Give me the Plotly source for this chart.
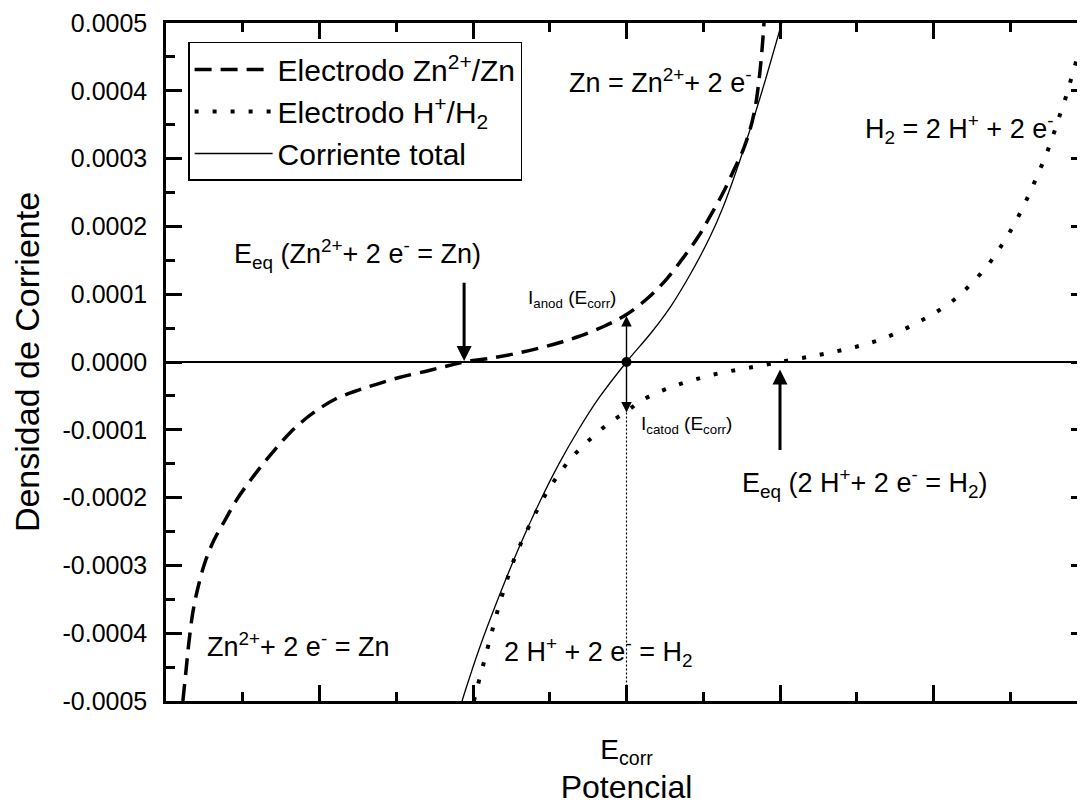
import plotly.graph_objects as go

# ---- data (x in units of major tick spacing, 0 = E_corr) ----
zn_x = [-2.890, -2.870, -2.851, -2.825, -2.792, -2.747, -2.688, -2.617, -2.539, -2.455, -2.370,
        -2.286, -2.195, -2.097, -2.000, -1.890, -1.773, -1.675, -1.481, -1.286, -1.156, -1.058,
        -0.896, -0.721, -0.526, -0.331, -0.149, 0.0, 0.143, 0.260, 0.370, 0.468, 0.545, 0.630,
        0.701, 0.760, 0.805, 0.838, 0.864, 0.883, 0.896]
zn_y = [-0.000500, -0.000456, -0.000414, -0.000369, -0.000333, -0.000296, -0.000263, -0.000234,
        -0.000203, -0.000176, -0.000151, -0.000128, -0.000105, -0.0000848, -0.0000686, -0.0000538,
        -0.0000435, -0.0000361, -0.0000229, -0.0000125, -0.0000052, 0.0, 0.0000052, 0.0000125,
        0.0000229, 0.0000361, 0.0000524, 0.0000701, 0.0000951, 0.000122, 0.000154, 0.000185,
        0.000215, 0.000250, 0.000284, 0.000313, 0.000343, 0.000375, 0.000417, 0.000461, 0.000501]

h_x = [-0.994, -0.987, -0.955, -0.922, -0.890, -0.857, -0.825, -0.786, -0.747, -0.701, -0.643,
       -0.584, -0.519, -0.442, -0.357, -0.247, -0.117, 0.0, 0.097, 0.227, 0.351, 0.481, 0.597,
       0.714, 0.825, 0.922, 1.0, 1.065, 1.182, 1.299, 1.422, 1.539, 1.656, 1.779, 1.896, 2.013,
       2.136, 2.240, 2.351, 2.435, 2.513, 2.578, 2.636, 2.688, 2.734, 2.779, 2.818, 2.857, 2.896,
       2.929, 2.961, 2.987]
h_y = [-0.000500, -0.000493, -0.000465, -0.000437, -0.000409, -0.000381, -0.000355, -0.000327,
       -0.000300, -0.000274, -0.000246, -0.000219, -0.000192, -0.000166, -0.000141, -0.000116,
       -0.0000907, -0.0000730, -0.0000568, -0.0000428, -0.0000324, -0.0000236, -0.0000170,
       -0.0000118, -0.0000074, -0.0000034, 0.0, 0.0000029, 0.0000074, 0.0000125, 0.0000184,
       0.0000251, 0.0000332, 0.0000450, 0.0000583, 0.0000730, 0.0000922, 0.000114, 0.000142,
       0.000169, 0.000198, 0.000226, 0.000254, 0.000281, 0.000306, 0.000334, 0.000361, 0.000387,
       0.000417, 0.000443, 0.000471, 0.000498]

tot_x = [-1.071, -1.052, -0.961, -0.831, -0.701, -0.571, -0.442, -0.312, -0.182, 0.0, 0.162,
         0.292, 0.422, 0.545, 0.630, 0.714, 0.805, 0.877, 0.942, 1.013]
tot_y = [-0.000500, -0.000486, -0.000424, -0.000346, -0.000274, -0.000209, -0.000151, -0.0000996,
         -0.0000538, 0.0, 0.0000435, 0.0000833, 0.000132, 0.000185, 0.000229, 0.000281, 0.000343,
         0.000395, 0.000445, 0.000501]

e_corr = 0.0
e_eq_zn = -1.058
e_eq_h = 1.0
i_anod = 0.000068
i_catod = -0.0000745

y_ticks = [0.0005, 0.0004, 0.0003, 0.0002, 0.0001, 0.0, -0.0001, -0.0002, -0.0003, -0.0004, -0.0005]
y_tick_text = ["0.0005", "0.0004", "0.0003", "0.0002", "0.0001", "0.0000",
               "-0.0001", "-0.0002", "-0.0003", "-0.0004", "-0.0005"]
x_ticks = [-3, -2, -1, 0, 1, 2, 3]
x_tick_text = ["", "", "", "E<sub>corr</sub>", "", "", ""]

FONT = "Liberation Sans, Arial, sans-serif"

fig = go.Figure()
fig.add_trace(go.Scatter(x=zn_x, y=zn_y, mode="lines", name="Electrodo Zn<sup>2+</sup>/Zn",
                         line=dict(color="black", width=3.5, dash="17px,9px", shape="spline")))
fig.add_trace(go.Scatter(x=h_x, y=h_y, mode="lines", name="Electrodo H<sup>+</sup>/H<sub>2</sub>",
                         line=dict(color="black", width=4, dash="4px,14px", shape="spline")))
fig.add_trace(go.Scatter(x=tot_x, y=tot_y, mode="lines", name="Corriente total",
                         line=dict(color="black", width=1.3, shape="spline")))
# vertical dotted line at E_corr
fig.add_trace(go.Scatter(x=[e_corr, e_corr], y=[i_catod, -0.0005], mode="lines", showlegend=False,
                         line=dict(color="black", width=1.2, dash="2px,2px")))
# corrosion point
fig.add_trace(go.Scatter(x=[e_corr], y=[0.0], mode="markers", showlegend=False,
                         marker=dict(color="black", size=10)))

annots = []
def arrow(x, y_tail, y_head, width, size):
    annots.append(dict(x=x, y=y_head, ax=x, ay=y_tail, xref="x", yref="y", axref="x", ayref="y",
                       showarrow=True, arrowhead=2, arrowsize=size, arrowwidth=width,
                       arrowcolor="black", text=""))

arrow(e_eq_zn, 0.000119, 0.0000015, 3, 1.0)
arrow(e_eq_h, -0.000132, -0.000011, 3, 1.0)
arrow(e_corr, 0.0, i_anod, 1.4, 1.5)
arrow(e_corr, 0.0, i_catod, 1.4, 1.5)

def label(x, y, text, size=27):
    annots.append(dict(x=x, y=y, xref="x", yref="y", text=text, showarrow=False,
                       xanchor="left", yanchor="middle", font=dict(family=FONT, size=size, color="black")))

label(-0.390, 0.000414, "Zn = Zn<sup>2+</sup>+ 2 e<sup>-</sup>")
label(1.539, 0.000343, "H<sub>2</sub> = 2 H<sup>+</sup> + 2 e<sup>-</sup>")
label(-2.571, 0.000159, "E<sub>eq</sub> (Zn<sup>2+</sup>+ 2 e<sup>-</sup> = Zn)")
label(-0.656, 0.0000922, "I<sub>anod</sub> (E<sub>corr</sub>)", 19)
label(0.084, -0.0000922, "I<sub>catod</sub> (E<sub>corr</sub>)", 19)
label(0.740, -0.000178, "E<sub>eq</sub> (2 H<sup>+</sup>+ 2 e<sup>-</sup> = H<sub>2</sub>)")
label(-2.747, -0.000417, "Zn<sup>2+</sup>+ 2 e<sup>-</sup> = Zn")
label(-0.812, -0.000427, "2 H<sup>+</sup> + 2 e<sup>-</sup> = H<sub>2</sub>")

axis_common = dict(showline=True, linecolor="black", linewidth=2.5, mirror="ticks",
                   ticks="inside", ticklen=16, tickwidth=2.5, tickcolor="black",
                   showgrid=False)

fig.update_layout(
    width=1082, height=797,
    margin=dict(l=158, r=0, t=15, b=104),
    paper_bgcolor="white", plot_bgcolor="white",
    font=dict(family=FONT, color="black"),
    xaxis=dict(range=[-3, 3], tickmode="array", tickvals=x_ticks, ticktext=x_tick_text,
               zeroline=False, tickfont=dict(size=28), ticklabelstandoff=22,
               minor=dict(tickmode="linear", tick0=0, dtick=0.5, ticks="inside", ticklen=9,
                          tickwidth=2.5, tickcolor="black"),
               title=dict(text="Potencial", font=dict(size=32), standoff=7),
               **axis_common),
    yaxis=dict(range=[-0.0005, 0.0005], tickmode="array", tickvals=y_ticks, ticktext=y_tick_text,
               zeroline=True, zerolinecolor="black", zerolinewidth=1.6,
               tickfont=dict(size=25), ticklabelstandoff=11,
               minor=dict(tickmode="linear", tick0=0, dtick=0.00005, ticks="inside", ticklen=9,
                          tickwidth=2.5, tickcolor="black"),
               title=dict(text="Densidad de Corriente", font=dict(size=34), standoff=26),
               **axis_common),
    legend=dict(x=0.024, y=0.972, xanchor="left", yanchor="top", bgcolor="white",
                bordercolor="black", borderwidth=1.5, font=dict(size=30), itemwidth=78,
                tracegroupgap=0),
    annotations=annots,
    showlegend=True,
)

fig.write_html("out.html")
